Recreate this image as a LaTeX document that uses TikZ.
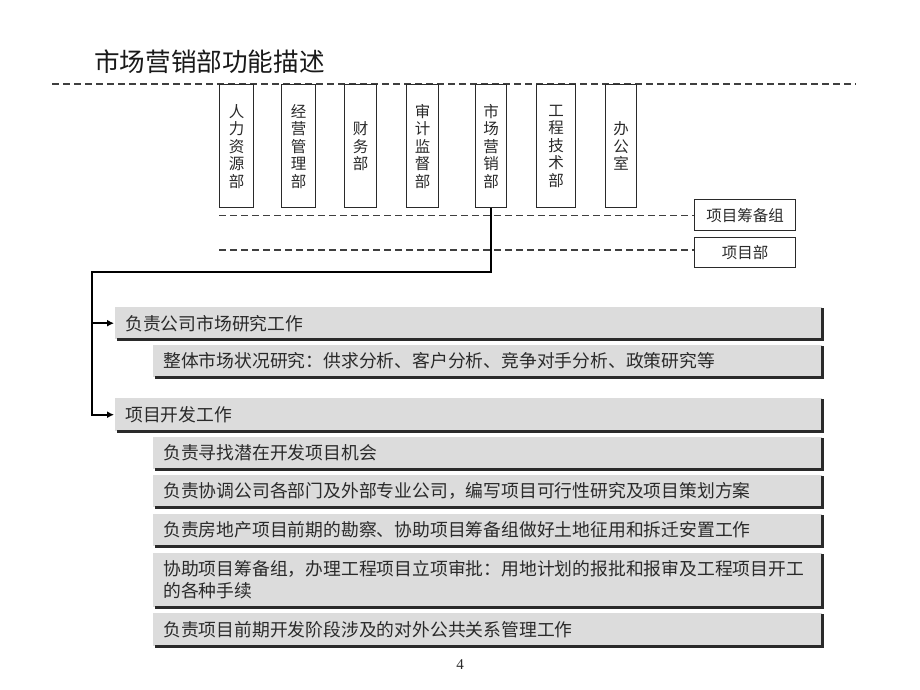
\documentclass[tikz,border=0pt]{standalone}
\usepackage{fontspec}
\setmainfont{Liberation Serif}
\newfontfamily\cjk{Noto Sans CJK SC}
\usetikzlibrary{arrows.meta}
\definecolor{barfill}{HTML}{DCDCDC}
\definecolor{ink}{HTML}{2A2A2A}
\begin{document}
\begin{tikzpicture}[x=1pt,y=-1pt,
  dept/.style={draw=ink, line width=1.3pt, minimum height=123pt, anchor=north west,
    inner sep=0pt, align=center, font=\cjk\fontsize{15.5}{17.5}\selectfont, text=ink},
  side/.style={draw=ink, line width=1.3pt, minimum width=101pt, minimum height=31pt,
    anchor=north west, inner sep=0pt, font=\cjk\fontsize{15.5}{18}\selectfont, text=ink},
  dashline/.style={draw=ink!90, line width=1.2pt, dash pattern=on 7pt off 4pt},
  bar/.style={fill=barfill, anchor=north west, inner xsep=10pt, inner ysep=0pt,
    align=left, font=\cjk\fontsize{17.8}{22}\selectfont, text=ink},
  lvone/.style={bar, minimum width=707pt, text width=687pt},
  lvtwo/.style={bar, minimum width=669pt, text width=649pt},
  shadeline/.style={draw=ink, line width=2.2pt},
  conn/.style={draw=black, line width=2.4pt},
  tip/.style={-{Latex[length=7pt,width=7pt]}, shorten >=1pt}
]
\useasboundingbox (0,0) rectangle (920,690);
\fill[white] (0,0) rectangle (920,690);

% title
\node[anchor=west, inner sep=0pt, font=\cjk\fontsize{25.6}{30}\selectfont, text=black!90] (title) at (94,62) {市场营销部功能描述};

% top dashed line
\coordinate (tl) at (52,84);
\coordinate (tr) at (856,84);
\draw[dashline] (tl) -- (tr);

% departments
\node[dept, minimum width=34pt] (d1) at (219,84) {人\\力\\资\\源\\部};
\node[dept, minimum width=34pt] (d2) at (281,84) {经\\营\\管\\理\\部};
\node[dept, minimum width=32pt] (d3) at (344,84) {财\\务\\部};
\node[dept, minimum width=32pt] (d4) at (406,84) {审\\计\\监\\督\\部};
\node[dept, minimum width=31pt] (d5) at (475,84) {市\\场\\营\\销\\部};
\node[dept, minimum width=39pt] (d6) at (536,84) {工\\程\\技\\术\\部};
\node[dept, minimum width=31pt] (d7) at (605,84) {办\\公\\室};

% side boxes
\node[side] (pg) at (694,199) {项目筹备组};
\node[side, minimum height=30pt] (pd) at (694,237) {项目部};
\draw[dashline] (d1.west |- pg.west) -- (pg.west);
\draw[dashline] (d1.west |- 0,250) -- (pd.west |- 0,250);

% bars
\node[lvone, minimum height=32pt] (b1) at (115,307) {负责公司市场研究工作};
\node[lvtwo, minimum height=32pt] (s1) at (153,345) {整体市场状况研究：供求分析、客户分析、竞争对手分析、政策研究等};
\node[lvone, minimum height=33pt] (b2) at (115,398) {项目开发工作};
\node[lvtwo, minimum height=32pt] (s2) at (153,437) {负责寻找潜在开发项目机会};
\node[lvtwo, minimum height=32pt] (s3) at (153,475) {负责协调公司各部门及外部专业公司，编写项目可行性研究及项目策划方案};
\node[lvtwo, minimum height=32pt] (s4) at (153,514) {负责房地产项目前期的勘察、协助项目筹备组做好土地征用和拆迁安置工作};
\node[lvtwo, minimum height=54pt] (s5) at (153,553) {协助项目筹备组，办理工程项目立项审批：用地计划的报批和报审及工程项目开工\\的各种手续};
\node[lvtwo, minimum height=33pt] (s6) at (153,613) {负责项目前期开发阶段涉及的对外公共关系管理工作};
\foreach \n in {b1,s1,b2,s2,s3,s4,s5,s6}
  \draw[shadeline] ([xshift=2pt]\n.south west) -- (\n.south east) -- ([yshift=-1pt]\n.north east);

% connector
\coordinate (c1) at (92,272);
\draw[conn, tip] (d5.south) |- (c1) |- (b2.west);
\draw[conn, tip] (c1 |- b1.west) -- (b1.west);

% page number
\node[font=\fontsize{15}{18}\selectfont, text=ink] (pn) at (460,665) {4};
\end{tikzpicture}
\end{document}
